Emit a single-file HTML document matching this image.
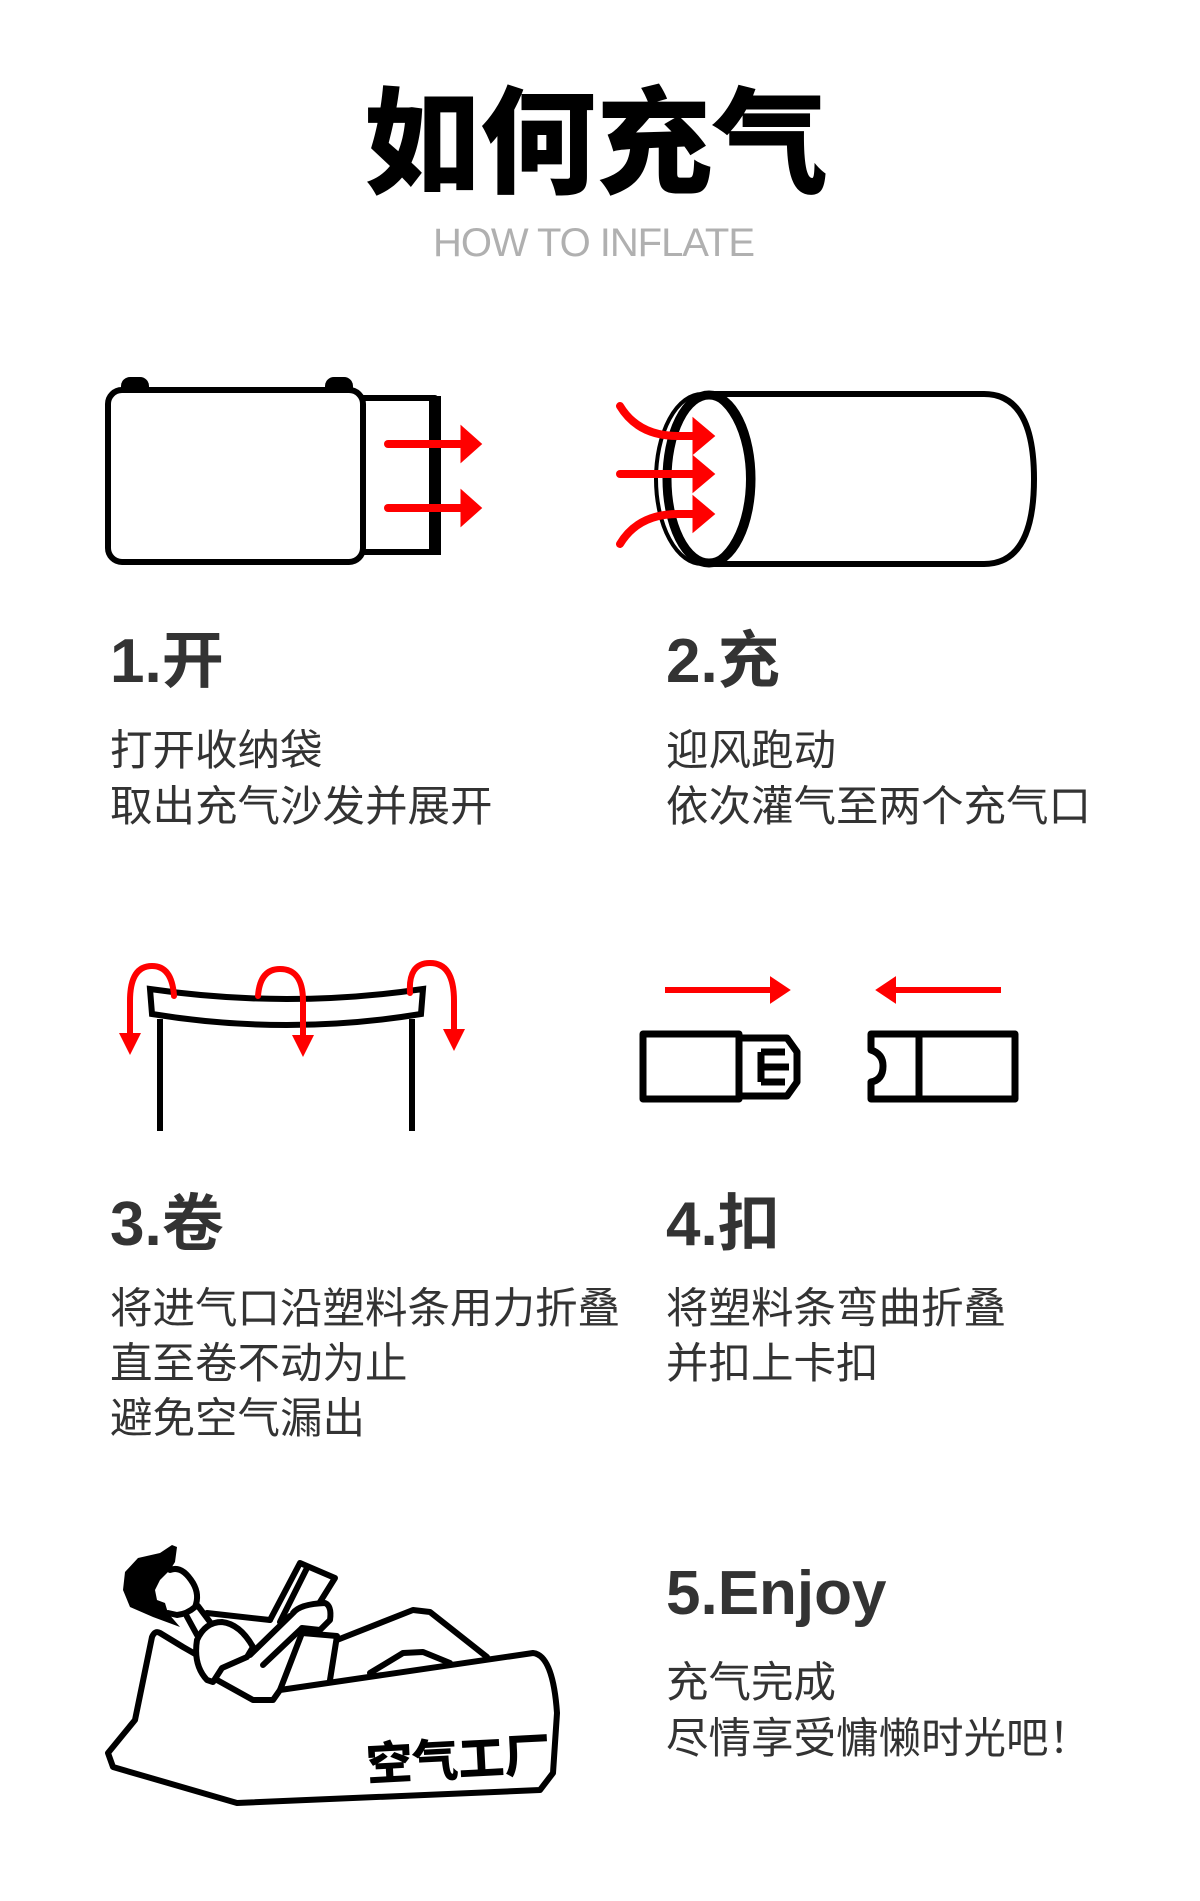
<!DOCTYPE html>
<html><head><meta charset="utf-8"><style>
html,body{margin:0;padding:0;background:#fff;}
svg{display:block;}
.t{font-family:"Liberation Sans","Noto Sans CJK SC",sans-serif;fill:#333;}
.h{font-weight:bold;font-size:62px;}
.b{font-size:42.5px;}
</style></head><body>
<svg width="1200" height="1901" viewBox="0 0 1200 1901" xmlns="http://www.w3.org/2000/svg">
<rect width="1200" height="1901" fill="#fff"/>
<text x="596" y="184" text-anchor="middle" font-family="Noto Sans CJK SC, sans-serif" font-weight="900" font-size="116" fill="#000">如何充气</text>
<text x="433" y="256" textLength="322" font-family="Liberation Sans, sans-serif" font-size="40" fill="#b0b0b0">HOW TO INFLATE</text>

<!-- step1 -->
<g fill="none" stroke="#000" stroke-width="6" stroke-linejoin="round">
<rect x="124" y="380" width="22" height="14" rx="6" fill="#000"/>
<rect x="328" y="380" width="22" height="14" rx="6" fill="#000"/>
<rect x="108" y="390" width="255" height="172" rx="14" fill="#fff"/>
<path d="M363 398 H435 V552 H363"/>
<line x1="435" y1="396" x2="435" y2="555" stroke-width="12"/>
</g>
<g stroke="red" stroke-width="8" fill="red" stroke-linecap="round">
<line x1="388" y1="444" x2="464" y2="444"/><path d="M462 428 L480 444 L462 460 Z" stroke-width="3"/>
<line x1="388" y1="508" x2="464" y2="508"/><path d="M462 492 L480 508 L462 524 Z" stroke-width="3"/>
</g>

<!-- step2 -->
<g transform="translate(6,4)">
<g fill="none" stroke="#000" stroke-width="6">
<path d="M700 390 H978 Q1028 390 1028 475 Q1028 560 978 560 H700"/>
<ellipse cx="696" cy="475" rx="46" ry="85" fill="#fff" stroke-width="4"/>
<ellipse cx="703" cy="475" rx="42" ry="84" stroke-width="9"/>
</g>
<g stroke="red" stroke-width="8" fill="red" stroke-linecap="round">
<path d="M614 402 Q632 432 672 432 H692" fill="none"/><path d="M688 416 L707 432 L688 448 Z" stroke-width="3"/>
<line x1="614" y1="470" x2="692" y2="470"/><path d="M688 454 L707 470 L688 486 Z" stroke-width="3"/>
<path d="M614 540 Q632 510 672 510 H692" fill="none"/><path d="M688 494 L707 510 L688 526 Z" stroke-width="3"/>
</g>
</g>

<text class="t h" x="110" y="682">1.开</text>
<text class="t b" x="110" y="765">打开收纳袋</text>
<text class="t b" x="110" y="821">取出充气沙发并展开</text>
<text class="t h" x="666" y="682">2.充</text>
<text class="t b" x="666" y="765">迎风跑动</text>
<text class="t b" x="666" y="821">依次灌气至两个充气口</text>

<!-- step3 -->
<g transform="translate(0,11)">
<g fill="none" stroke="#000" stroke-width="6">
<path d="M150 978 Q287 998 423 978 L421 1003 Q287 1025 152 1003 Z" fill="#fff"/>
<line x1="160" y1="1008" x2="160" y2="1120"/>
<line x1="412" y1="1008" x2="412" y2="1120"/>
</g>
<g stroke="red" stroke-width="6" fill="none" stroke-linecap="round">
<path d="M174 985 Q172 955 152 955 Q130 955 130 990 V1025"/>
<path d="M258 985 Q260 958 280 958 Q303 958 303 990 V1027"/>
<path d="M410 982 Q408 952 430 952 Q454 952 454 990 V1020"/>
</g>
<g fill="red"><path d="M119 1022 L141 1022 L130 1044Z"/><path d="M292 1024 L314 1024 L303 1046Z"/><path d="M443 1018 L465 1018 L454 1040Z"/></g>
</g>

<!-- step4 -->
<g transform="translate(7,12)">
<g stroke="red" stroke-width="6" fill="red">
<line x1="658" y1="978" x2="766" y2="978"/><path d="M764 966 L782 978 L764 990Z" stroke-width="2"/>
<line x1="994" y1="978" x2="886" y2="978"/><path d="M888 966 L870 978 L888 990Z" stroke-width="2"/>
</g>
<g fill="none" stroke="#000" stroke-width="7" stroke-linejoin="round">
<rect x="636" y="1022" width="96" height="65"/>
<path d="M732 1026 H780 L790 1040 V1070 L780 1084 H732"/>
<path d="M754 1040 H778 M754 1055 H782 M754 1070 H778 M754 1040 V1070"/>
<path d="M912 1022 H864 V1038 Q876 1042 876 1054 Q876 1068 864 1070 V1087 H912"/>
<rect x="912" y="1022" width="96" height="65"/>
</g>
</g>

<text class="t h" x="110" y="1245">3.卷</text>
<text class="t b" x="110" y="1323">将进气口沿塑料条用力折叠</text>
<text class="t b" x="110" y="1378">直至卷不动为止</text>
<text class="t b" x="110" y="1433">避免空气漏出</text>
<text class="t h" x="666" y="1245">4.扣</text>
<text class="t b" x="666" y="1323">将塑料条弯曲折叠</text>
<text class="t b" x="666" y="1378">并扣上卡扣</text>

<!-- step5 -->
<g fill="none" stroke="#000" stroke-width="6" stroke-linejoin="round" stroke-linecap="round">
<path d="M337 1640 L413 1610 L430 1612 L487 1657" fill="#fff"/>
<path d="M370 1673 L403 1653 L423 1652 L450 1663" fill="#fff"/>
<path d="M160 1633 L183 1647 L197 1655 L217 1680 L253 1700 L273 1700 L280 1690 L533 1653 Q553 1655 557 1713 L553 1773 L540 1790 L237 1803 L113 1767 L108 1753 L135 1720 L152 1637 Q155 1630 160 1633 Z" fill="#fff"/>
<path d="M302 1633 L337 1636 L330 1680"/>
<path d="M207 1613 L270 1620"/>
<path d="M280 1690 L302 1633"/>
<path d="M185 1613 L197 1635 M198 1606 L210 1622"/>
<path d="M197 1640 Q205 1622 222 1622 Q240 1624 253 1647 L247 1657 L222 1668 L213 1682 L207 1680 Q193 1665 197 1640 Z" fill="#fff"/>
<path d="M250 1655 L293 1613 M263 1665 L302 1628"/>
<path d="M270 1620 L300 1563 L335 1578 L320 1602" fill="#fff"/>
<path d="M280 1622 L307 1568"/>
<path d="M293 1613 Q300 1604 325 1603 Q332 1606 330 1620 L320 1630 L302 1628" fill="#fff"/>
<path d="M170 1570 Q182 1565 193 1583 Q200 1595 195 1607 Q187 1614 177 1615 L168 1613" fill="#fff"/>
</g>
<path d="M125 1572 L138 1558 L160 1553 L172 1545 L177 1547 L175 1562 L170 1570 L160 1580 L155 1590 L157 1600 L165 1603 L168 1613 L180 1627 L153 1617 L130 1607 L123 1590 Z" fill="#000"/>
<text x="366" y="1776" transform="rotate(-3 455 1755)" font-family="Noto Sans CJK SC, sans-serif" font-weight="900" font-size="46" fill="#000">空气工厂</text>

<text class="t h" x="666" y="1614">5.Enjoy</text>
<text class="t b" x="666" y="1697">充气完成</text>
<text class="t b" x="666" y="1753">尽情享受慵懒时光吧！</text>
</svg>
</body></html>
